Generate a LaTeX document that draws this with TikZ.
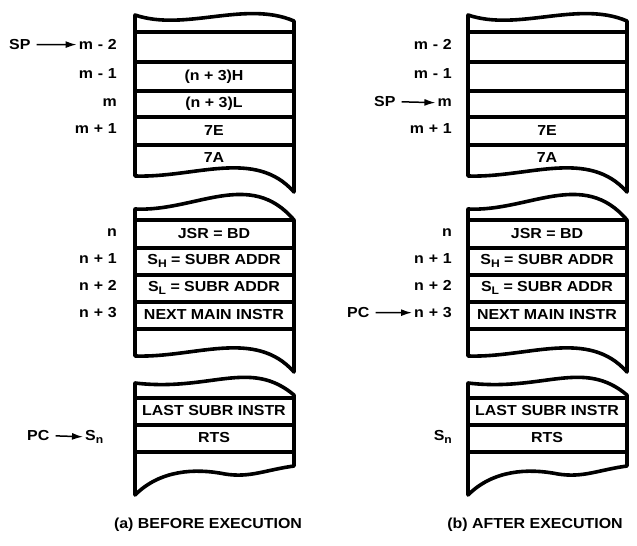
\documentclass[tikz,border=0pt]{standalone}
\usepackage{fontspec}
\setmainfont{Liberation Sans}[FakeStretch=1.1]
\usetikzlibrary{arrows.meta}
\tikzset{
  frame/.style={line width=3.6pt, line join=round},
  sepline/.style={line width=3.6pt},
  txt/.style={inner sep=0pt, font=\bfseries\fontsize{14.5}{16}\selectfont},
  arr/.style={line width=1.5pt, -{Latex[length=11pt,width=7pt]}, shorten <=6pt, shorten >=2pt}
}
\newcommand{\mysub}[1]{\raisebox{-2.5pt}{\fontsize{11}{12}\selectfont #1}}
\newcommand{\drawframes}{%
  % stack 1
  \draw[frame] (135,15) .. controls (185,32) and (245,0) .. (294,21) -- (294,192)
     .. controls (255,148) and (195,178) .. (135,176) -- cycle;
  \foreach \y in {32,62,91,117,145} \draw[sepline] (135,\y) -- (294,\y);
  % stack 2
  \draw[frame] (135,209) .. controls (195,212) and (250,168) .. (294,220) -- (294,372)
     .. controls (255,328) and (195,358) .. (135,356) -- cycle;
  \foreach \y in {220,248,275,302,329} \draw[sepline] (135,\y) -- (294,\y);
  % stack 3
  \draw[frame] (135,383) .. controls (210,392) and (250,358) .. (294,395) -- (294,466)
     .. controls (265,470) and (250,478) .. (225,474)
     .. controls (195,468) and (160,470) .. (135,495) -- cycle;
  \foreach \y in {398,425,452} \draw[sepline] (135,\y) -- (294,\y);
}
\begin{document}
\begin{tikzpicture}[x=1pt,y=-1pt]
\useasboundingbox (0,0) rectangle (637,546);
\begin{scope}
\drawframes
\end{scope}
\begin{scope}[xshift=333pt]
\drawframes
\end{scope}

% ---------- left (a) ----------
\node[txt, anchor=mid east] (am2) at (117,47) {m\,\,-\,\,2};
\node[txt, anchor=mid east] (am1) at (117,76) {m\,\,-\,\,1};
\node[txt, anchor=mid east] (am0) at (117,104) {m};
\node[txt, anchor=mid east] (amp1) at (117,131) {m\,\,+\,\,1};
\node[txt, anchor=mid west] (asp) at (9,47) {SP};
\draw[arr] (asp.east) -- (am2.west);

\node[txt] (ac2) at (214,77) {(n + 3)H};
\node[txt] (ac3) at (214,104) {(n + 3)L};
\node[txt] (ac4) at (214,131) {7E};
\node[txt] (ac5) at (214,158) {7A};

\node[txt, anchor=mid east] (an0) at (117,234) {n};
\node[txt, anchor=mid east] (an1) at (117,261) {n\,\,+\,\,1};
\node[txt, anchor=mid east] (an2) at (117,288) {n\,\,+\,\,2};
\node[txt, anchor=mid east] (an3) at (117,315) {n\,\,+\,\,3};
\node[txt] (ad0) at (214,234) {JSR = BD};
\node[txt] (ad1) at (214,261) {S\mysub{H} = SUBR ADDR};
\node[txt] (ad2) at (214,288) {S\mysub{L} = SUBR ADDR};
\node[txt] (ad3) at (214,315) {NEXT MAIN INSTR};

\node[txt] (ae0) at (214,411) {LAST SUBR INSTR};
\node[txt] (ae1) at (214,438) {RTS};
\node[txt, anchor=mid west] (asn) at (85,438) {S\mysub{n}};
\node[txt, anchor=mid west] (apc) at (27,438) {PC};
\draw[arr] (apc.east) -- (asn.west);

\node[txt] (capa) at (208,525) {(a) BEFORE EXECUTION};

% ---------- right (b) ----------
\node[txt, anchor=mid east] (bm2) at (452,47) {m\,\,-\,\,2};
\node[txt, anchor=mid east] (bm1) at (452,76) {m\,\,-\,\,1};
\node[txt, anchor=mid east] (bm0) at (452,104) {m};
\node[txt, anchor=mid east] (bmp1) at (452,131) {m\,\,+\,\,1};
\node[txt, anchor=mid west] (bsp) at (374,104) {SP};
\draw[arr] (bsp.east) -- (bm0.west);

\node[txt] (bc4) at (547,131) {7E};
\node[txt] (bc5) at (547,158) {7A};

\node[txt, anchor=mid east] (bn0) at (452,234) {n};
\node[txt, anchor=mid east] (bn1) at (452,261) {n\,\,+\,\,1};
\node[txt, anchor=mid east] (bn2) at (452,288) {n\,\,+\,\,2};
\node[txt, anchor=mid east] (bn3) at (452,315) {n\,\,+\,\,3};
\node[txt, anchor=mid west] (bpc) at (347,315) {PC};
\draw[arr] (bpc.east) -- (bn3.west);
\node[txt] (bd0) at (547,234) {JSR = BD};
\node[txt] (bd1) at (547,261) {S\mysub{H} = SUBR ADDR};
\node[txt] (bd2) at (547,288) {S\mysub{L} = SUBR ADDR};
\node[txt] (bd3) at (547,315) {NEXT MAIN INSTR};

\node[txt] (be0) at (547,411) {LAST SUBR INSTR};
\node[txt] (be1) at (547,438) {RTS};
\node[txt, anchor=mid east] (bsn) at (452,438) {S\mysub{n}};

\node[txt] (capb) at (535,525) {(b) AFTER EXECUTION};
\end{tikzpicture}
\end{document}
